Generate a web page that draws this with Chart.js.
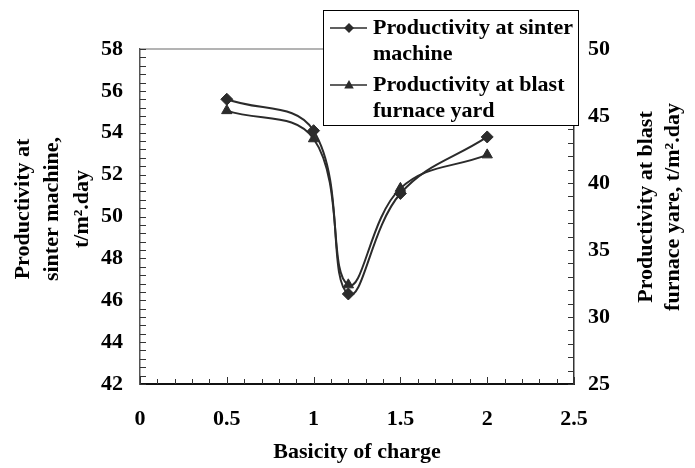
<!DOCTYPE html>
<html>
<head>
<meta charset="utf-8">
<script src="https://cdn.jsdelivr.net/npm/chart.js@4.4.1/dist/chart.umd.min.js"></script>
<style>
  html, body { margin: 0; padding: 0; background: #fff; }
  #wrap { width: 695px; height: 468px; }
</style>
</head>
<body>
<div id="wrap"><canvas id="chart" width="695" height="468"></canvas></div>
<script>
// basicity of charge vs. productivity
var basicity = [0.5, 1, 1.2, 1.5, 2];
var sinterMachine = [55.6, 54.1, 46.3, 51.1, 53.8];      // t/m2.day, left axis
var blastFurnaceYard = [45.4, 43.3, 32.4, 39.6, 42.1];   // t/m2.day, right axis

var xRange = [0, 2.5];
var leftRange = [42, 58];
var rightRange = [25, 50];

var seriesNames = ['Productivity at sinter machine', 'Productivity at blast furnace yard'];
var legendLines = [['Productivity at sinter', 'machine'], ['Productivity at blast', 'furnace yard']];
var xTitle = 'Basicity of charge';
var leftTitle = ['Productivity at', 'sinter machine,', 't/m\u00b2.day'];
var rightTitle = ['Productivity at blast', 'furnace yare, t/m\u00b2.day'];

var FONT = '"Liberation Serif", "Times New Roman", serif';
var INK = '#2b2b2b';

function toPoints(xs, ys) {
    var out = [];
    for (var i = 0; i < xs.length; i++) out.push({x: xs[i], y: ys[i]});
    return out;
}

// inward tick marks, major + minor, for one scale
function drawTicks(ctx, scale, min, max, minorStep, every, majorLen, minorLen, side) {
    var n = Math.round((max - min) / minorStep);
    ctx.save();
    ctx.strokeStyle = '#333';
    ctx.lineWidth = 1;
    ctx.beginPath();
    for (var i = 0; i <= n; i++) {
        var v = min + i * minorStep;
        var p = Math.round(scale.getPixelForValue(v)) + 0.5;
        var len = (i % every === 0) ? majorLen : minorLen;
        if (side === 'bottom') {
            ctx.moveTo(p, scale.top); ctx.lineTo(p, scale.top - len);
        } else if (side === 'left') {
            ctx.moveTo(scale.right, p); ctx.lineTo(scale.right + len, p);
        } else {
            ctx.moveTo(scale.left, p); ctx.lineTo(scale.left - len, p);
        }
    }
    ctx.stroke();
    ctx.restore();
}

function drawMarker(ctx, style, x, y, r) {
    ctx.beginPath();
    if (style === 'rectRot') {
        ctx.moveTo(x, y - r); ctx.lineTo(x + r, y); ctx.lineTo(x, y + r); ctx.lineTo(x - r, y);
    } else {
        ctx.moveTo(x, y - r); ctx.lineTo(x + r * 0.95, y + r * 0.7); ctx.lineTo(x - r * 0.95, y + r * 0.7);
    }
    ctx.closePath();
    ctx.fill();
}

function rotatedLines(ctx, lines, xs, cy) {
    for (var i = 0; i < lines.length; i++) {
        ctx.save();
        ctx.translate(xs[i], cy);
        ctx.rotate(-Math.PI / 2);
        ctx.fillText(lines[i], 0, 0);
        ctx.restore();
    }
}

var decorations = {
    id: 'decorations',
    beforeDatasetsDraw: function(chart) {
        var ctx = chart.ctx, a = chart.chartArea;
        // thin grey top edge of the plot frame
        ctx.save();
        ctx.strokeStyle = '#9a9a9a';
        ctx.lineWidth = 1.5;
        ctx.beginPath();
        ctx.moveTo(a.left, a.top); ctx.lineTo(a.right, a.top);
        ctx.stroke();
        ctx.restore();
        drawTicks(ctx, chart.scales.x, xRange[0], xRange[1], 0.1, 5, 7, 5, 'bottom');
        drawTicks(ctx, chart.scales.y, leftRange[0], leftRange[1], 0.4, 5, 6, 6, 'left');
        drawTicks(ctx, chart.scales.y1, rightRange[0], rightRange[1], 1, 5, 6, 6, 'right');
    },
    afterDraw: function(chart) {
        var ctx = chart.ctx;
        ctx.save();
        ctx.fillStyle = '#000';
        ctx.font = 'bold 22px ' + FONT;
        ctx.textAlign = 'center';
        ctx.textBaseline = 'middle';
        rotatedLines(ctx, leftTitle, [23, 52, 82], 209);
        rotatedLines(ctx, rightTitle, [646, 673], 207);

        // legend box
        var bx = 323, by = 10, bw = 255, bh = 115;
        ctx.fillStyle = '#fff';
        ctx.fillRect(bx, by, bw, bh);
        ctx.strokeStyle = '#000';
        ctx.lineWidth = 1;
        ctx.strokeRect(bx + 0.5, by + 0.5, bw, bh);

        var rows = [28, 85];
        chart.data.datasets.forEach(function(ds, i) {
            var y = rows[i];
            ctx.strokeStyle = ds.borderColor;
            ctx.lineWidth = 1.5;
            ctx.beginPath();
            ctx.moveTo(330, y); ctx.lineTo(367, y);
            ctx.stroke();
            ctx.fillStyle = ds.pointBackgroundColor;
            drawMarker(ctx, ds.pointStyle, 349, y, 5);
            ctx.fillStyle = '#000';
            ctx.textAlign = 'left';
            ctx.font = 'bold 22px ' + FONT;
            var lines = legendLines[i];
            for (var k = 0; k < lines.length; k++) {
                ctx.fillText(lines[k], 373, y + k * 26);
            }
        });
        ctx.restore();
    }
};

var tickFont = { family: FONT, size: 22, weight: 'bold' };
var plainNumber = function(value) { return String(Math.round(value * 10) / 10); };

var ctx = document.getElementById('chart');
var chart = new Chart(ctx, {
    type: 'scatter',
    data: {
        datasets: [{
            label: seriesNames[0],
            data: toPoints(basicity, sinterMachine),
            yAxisID: 'y',
            showLine: true,
            tension: 0.4,
            borderColor: INK,
            borderWidth: 2,
            pointStyle: 'rectRot',
            pointRadius: 6,
            pointBackgroundColor: INK,
            pointBorderColor: INK,
            pointBorderWidth: 1
        }, {
            label: seriesNames[1],
            data: toPoints(basicity, blastFurnaceYard),
            yAxisID: 'y1',
            showLine: true,
            tension: 0.4,
            borderColor: INK,
            borderWidth: 2,
            pointStyle: 'triangle',
            pointRadius: 6,
            pointBackgroundColor: INK,
            pointBorderColor: INK,
            pointBorderWidth: 1
        }]
    },
    options: {
        responsive: false,
        animation: false,
        layout: { padding: { top: 49, left: 0, right: 0, bottom: 0 } },
        plugins: {
            legend: { display: false },
            tooltip: { enabled: false }
        },
        scales: {
            x: {
                type: 'linear',
                min: xRange[0],
                max: xRange[1],
                grid: { display: false, drawTicks: false },
                border: { display: true, color: '#111', width: 2 },
                ticks: { stepSize: 0.5, color: '#000', font: tickFont, padding: 22, maxRotation: 0, callback: plainNumber },
                title: { display: true, text: xTitle, color: '#000', font: tickFont, padding: { top: 0, bottom: 2 } },
                afterFit: function(s) { s.height = 84; }
            },
            y: {
                position: 'left',
                min: leftRange[0],
                max: leftRange[1],
                grid: { display: false, drawTicks: false },
                border: { display: true, color: '#555', width: 1.5 },
                ticks: { stepSize: 2, color: '#000', font: tickFont, padding: 17, callback: plainNumber },
                afterFit: function(s) { s.width = 140; }
            },
            y1: {
                position: 'right',
                min: rightRange[0],
                max: rightRange[1],
                grid: { display: false, drawTicks: false },
                border: { display: true, color: '#333', width: 1.5 },
                ticks: { stepSize: 5, color: '#000', font: tickFont, padding: 14, callback: plainNumber },
                afterFit: function(s) { s.width = 121; }
            }
        }
    },
    plugins: [decorations]
});
</script>
</body>
</html>
